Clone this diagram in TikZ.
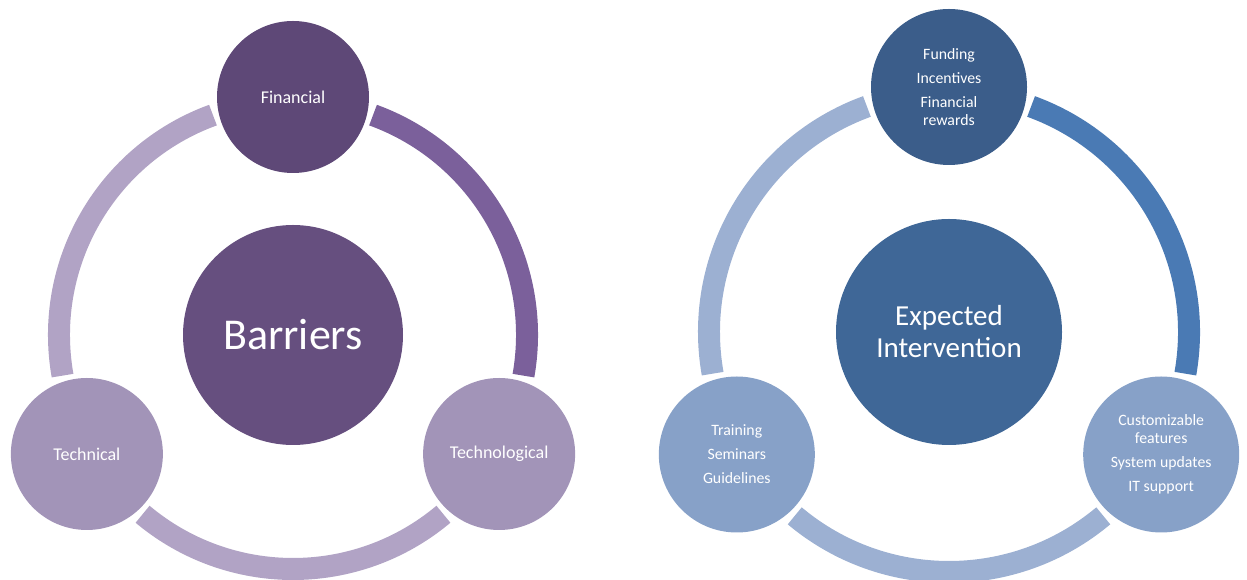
\documentclass[tikz,border=0pt]{standalone}
\usepackage{fontspec}
\setmainfont{Carlito}

\definecolor{barDark}{HTML}{5E4877}
\definecolor{barMid}{HTML}{664F7F}
\definecolor{barArc}{HTML}{7B609B}
\definecolor{barLight}{HTML}{B1A3C5}
\definecolor{barSat}{HTML}{A294B8}
\definecolor{expDark}{HTML}{3B5D8A}
\definecolor{expMid}{HTML}{3F6797}
\definecolor{expArc}{HTML}{4A7AB4}
\definecolor{expLight}{HTML}{9CB0D2}
\definecolor{expSat}{HTML}{87A1C8}

\begin{document}
\begin{tikzpicture}[x=1pt,y=1pt,
	disc/.style={circle,inner sep=0,outer sep=0,text=white,align=center},
	small/.style={font=\fontsize{18}{21}\selectfont},
	smaller/.style={font=\fontsize{15.8}{18}\selectfont},
	ring/.style={line width=22pt}]
	\useasboundingbox (0,0) rectangle (1247,580);
	% left cycle
	\node[disc,fill=barMid,minimum size=220pt,font=\fontsize{44}{50}\selectfont] (bar) at (293,245) {Barriers};
	\node[disc,fill=barDark,minimum size=152pt,small] (fin) at ([shift={(90:238pt)}]bar.center) {Financial};
	\node[disc,fill=barSat,minimum size=152pt,small] (tcl) at ([shift={(210:238pt)}]bar.center) {Technical};
	\node[disc,fill=barSat,minimum size=152pt,small] (tgl) at ([shift={(330:238pt)}]bar.center) {Technological};
	\draw[ring,barLight] ([shift={(110:234pt)}]bar.center) arc[start angle=110,end angle=190,radius=234pt];
	\draw[ring,barLight] ([shift={(230:234pt)}]bar.center) arc[start angle=230,end angle=310,radius=234pt];
	\draw[ring,barArc] ([shift={(350:234pt)}]bar.center) arc[start angle=-10,end angle=70,radius=234pt];
	% right cycle
	\node[disc,fill=expMid,minimum size=226pt,font=\fontsize{29}{32}\selectfont] (exp) at (949,248) {Expected\\Intervention};
	\node[disc,fill=expDark,minimum size=156pt,smaller] (fund) at ([shift={(90:245pt)}]exp.center) {Funding\\[6pt]Incentives\\[6pt]Financial\\rewards};
	\node[disc,fill=expSat,minimum size=156pt,smaller] (train) at ([shift={(210:245pt)}]exp.center) {Training\\[6pt]Seminars\\[6pt]Guidelines};
	\node[disc,fill=expSat,minimum size=156pt,smaller] (cust) at ([shift={(330:245pt)}]exp.center) {Customizable\\features\\[6pt]System updates\\[6pt]IT support};
	\draw[ring,expLight] ([shift={(110:240pt)}]exp.center) arc[start angle=110,end angle=190,radius=240pt];
	\draw[ring,expLight] ([shift={(230:240pt)}]exp.center) arc[start angle=230,end angle=310,radius=240pt];
	\draw[ring,expArc] ([shift={(350:240pt)}]exp.center) arc[start angle=-10,end angle=70,radius=240pt];
\end{tikzpicture}
\end{document}
